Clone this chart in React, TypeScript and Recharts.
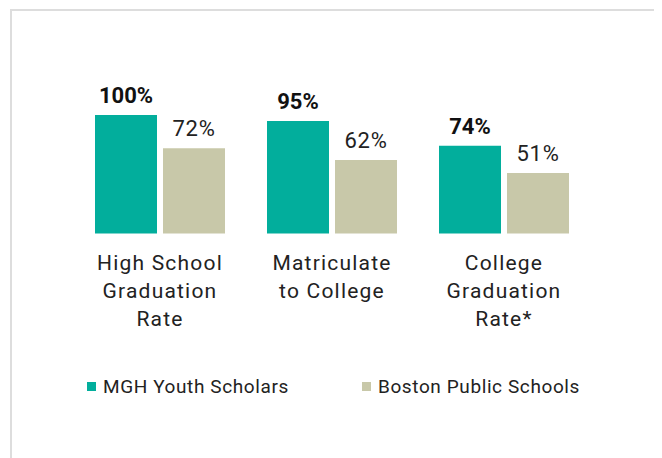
import { BarChart, Bar, XAxis, YAxis, LabelList, Legend } from 'recharts'

const categories = ['High School\nGraduation\nRate', 'Matriculate\nto College', 'College\nGraduation\nRate*']
const mghValues = [100, 95, 74]
const bpsValues = [72, 62, 51]
const seriesNames = ['MGH Youth Scholars', 'Boston Public Schools']
const seriesColors = ['#02ae9c', '#c8c8a9']

const data = categories.map((name, i) => ({
  name,
  mgh: mghValues[i],
  bps: bpsValues[i],
}))

const FONT = 'Roboto, "DejaVu Sans", sans-serif'

function CategoryTick(props: any) {
  const { x, y, payload } = props
  const lines = String(payload.value).split('\n')
  return (
    <text
      x={x}
      y={y}
      textAnchor="middle"
      fill="#222"
      fontSize={21}
      fontFamily={FONT}
      letterSpacing={1.2}
    >
      {lines.map((line, i) => (
        <tspan key={i} x={x} dy={i === 0 ? 28.5 : 28}>
          {line}
        </tspan>
      ))}
    </text>
  )
}

function LegendContent() {
  return (
    <div style={{ display: 'flex', fontFamily: FONT, fontSize: 19, color: '#222', letterSpacing: 0.6 }}>
      {seriesNames.map((n, i) => (
        <div key={n} style={{ display: 'flex', alignItems: 'center', width: i === 0 ? 275 : 'auto', height: 24 }}>
          <span style={{ width: 9, height: 9, background: seriesColors[i], marginRight: 7, flex: 'none' }} />
          <span>{n}</span>
        </div>
      ))}
    </div>
  )
}

export default function App() {
  return (
    <div
      style={{
        position: 'relative',
        left: 2,
        top: 1,
        width: 648,
        height: 460,
        border: '2px solid #dddddd',
        boxSizing: 'border-box',
        background: '#fff',
      }}
    >
      <BarChart
        width={644}
        height={440}
        data={data}
        margin={{ top: 104, right: 66, left: 62, bottom: 127.5 }}
        barSize={62}
        barGap={6}
      >
        <XAxis dataKey="name" axisLine={false} tickLine={false} interval={0} height={90} tick={<CategoryTick />} />
        <YAxis hide domain={[0, 100]} />
        <Legend
          verticalAlign="middle"
          align="center"
          content={<LegendContent />}
          wrapperStyle={{ top: 363.5, left: 75, width: 560 }}
        />
        <Bar dataKey="mgh" name={seriesNames[0]} fill={seriesColors[0]} isAnimationActive={false}>
          <LabelList
            dataKey="mgh"
            position="top"
            offset={12}
            formatter={(v: any) => `${v}%`}
            fill="#111"
            fontSize={22}
            fontWeight={700}
            fontFamily={FONT}
          />
        </Bar>
        <Bar dataKey="bps" name={seriesNames[1]} fill={seriesColors[1]} isAnimationActive={false}>
          <LabelList
            dataKey="bps"
            position="top"
            offset={12}
            formatter={(v: any) => `${v}%`}
            fill="#222"
            fontSize={22}
            fontFamily={FONT}
            letterSpacing={0.8}
          />
        </Bar>
      </BarChart>
    </div>
  )
}
